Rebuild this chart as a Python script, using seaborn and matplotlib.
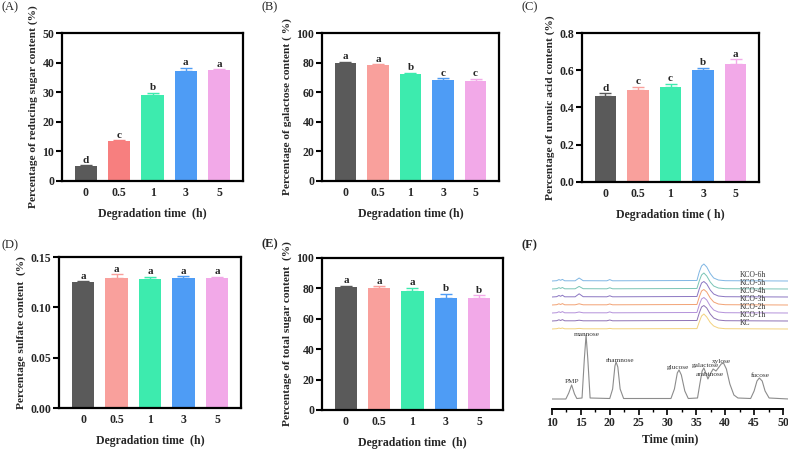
import matplotlib
matplotlib.use("Agg")
import matplotlib.pyplot as plt
import seaborn as sns
from matplotlib.ticker import MultipleLocator, FormatStrFormatter

# Degradation times (h)
times = ["0", "0.5", "1", "3", "5"]

# (A) reducing sugar
reducing = [5.0, 13.5, 29.2, 37.2, 37.5]
reducing_err = [0.3, 0.3, 0.6, 1.1, 0.3]
reducing_sig = ["d", "c", "b", "a", "a"]

# (B) galactose
galactose = [80.0, 78.2, 72.2, 68.2, 67.3]
galactose_err = [0.6, 0.6, 1.0, 1.3, 1.8]
galactose_sig = ["a", "a", "b", "c", "c"]

# (C) uronic acid
uronic = [0.460, 0.493, 0.508, 0.602, 0.636]
uronic_err = [0.018, 0.018, 0.020, 0.012, 0.022]
uronic_sig = ["d", "c", "c", "b", "a"]

# (D) sulfate
sulfate = [0.1250, 0.1290, 0.1285, 0.1295, 0.1295]
sulfate_err = [0.0010, 0.0040, 0.0020, 0.0015, 0.0010]
sulfate_sig = ["a", "a", "a", "a", "a"]

# (E) total sugar
total = [81.0, 80.5, 78.0, 74.0, 74.0]
total_err = [0.8, 1.0, 2.5, 2.5, 1.5]
total_sig = ["a", "a", "a", "b", "b"]

# (F) HPLC chromatograms: monosaccharide standard
std_t = [10.0, 12.4, 12.9, 13.4, 13.9, 14.3, 15.2, 15.6, 15.9, 16.2, 16.6,
         20.0, 20.5, 20.9, 21.1, 21.4, 21.8, 22.4, 30.6, 31.2, 31.7, 32.0,
         32.4, 33.0, 33.6, 35.2, 35.6, 36.0, 36.3, 36.7, 37.0, 37.4, 37.9,
         38.4, 38.8, 39.3, 39.7, 40.2, 40.8, 41.5, 42.2, 44.4, 45.0, 45.5,
         45.9, 46.4, 46.9, 47.6, 51.0]
std_y = [0, 0, 6, 14, 5, 0.5, 1, 40, 64, 40, 1,
         0.5, 10, 33, 37, 32, 10, 0.5, 0.5, 10, 26, 29,
         24, 8, 0.5, 1, 15, 28, 31, 25, 20, 25, 30,
         28, 31, 35, 36, 30, 15, 4, 1, 0.5, 8, 18,
         21, 18, 8, 1, 0]
peak_names = ["PMP", "mannose", "rhamnose", "glucose", "galactose", "arabinose", "xylose", "fucose"]
peak_t = [13.4, 16.0, 21.8, 31.8, 36.5, 37.4, 39.4, 46.0]
peak_y = [17.5, 65, 38.5, 31, 34, 25, 37.5, 23.5]

# (F) sample chromatograms
sample_t = [10.0, 10.8, 11.2, 11.5, 11.8, 12.2, 14.0, 14.7, 15.4, 19.5, 20.0,
            20.5, 35.1, 35.5, 35.9, 36.3, 36.8, 37.4, 38.0, 38.8, 40.0, 51.0]
kc_y = [0, 0.3, 0.9, 0.5, 1.0, 0.2, 0.2, 0.6, 0.2, 0.2, 0.6, 0.2, 0.4, 7, 13, 15, 12, 6.5, 3, 1, 0.3, 0]
kco1_y = [0, 0.3, 1.2, 0.5, 1.4, 0.2, 0.2, 0.8, 0.2, 0.2, 1.0, 0.2, 0.5, 8, 14, 15.5, 13, 7, 3, 1, 0.3, 0]
kco2_y = [0, 0.3, 1.2, 0.5, 1.4, 0.2, 0.2, 1.0, 0.2, 0.2, 1.1, 0.2, 0.5, 8, 14, 15.5, 13, 7, 3, 1, 0.3, 0]
kco3_y = [0, 0.3, 1.2, 0.5, 1.4, 0.2, 0.2, 1.2, 0.2, 0.2, 1.0, 0.2, 0.5, 8, 14, 15.5, 13, 7, 3, 1, 0.3, 0]
kco4_y = [0, 0.3, 1.5, 0.7, 1.8, 0.2, 0.2, 3.2, 0.3, 0.2, 1.2, 0.2, 0.5, 8, 14, 15.5, 13, 7, 3, 1, 0.3, 0]
kco5_y = [0, 0.3, 1.3, 0.6, 1.5, 0.2, 0.2, 2.6, 0.3, 0.2, 1.2, 0.2, 0.5, 8, 14, 16, 13, 7, 3, 1, 0.3, 0]
kco6_y = [0, 0.3, 1.4, 0.7, 1.6, 0.2, 0.2, 3.0, 0.3, 0.2, 1.4, 0.2, 0.5, 9, 15, 17, 14, 7.5, 3, 1, 0.3, 0]
sample_names = ["KC", "KCO-1h", "KCO-2h", "KCO-3h", "KCO-4h", "KCO-5h", "KCO-6h"]
sample_traces = [kc_y, kco1_y, kco2_y, kco3_y, kco4_y, kco5_y, kco6_y]
sample_colors = ["#F3D27E", "#8E72B5", "#B492DA", "#F2A274", "#8B76C2", "#79C4B5", "#7FB6E3"]
sample_offsets = [70, 78, 86, 94, 102, 110, 118]

bar_colors = ["#5A5A5A", "#F9A09C", "#3DEBAE", "#4E9CF5", "#F2A9E8"]
bar_colors_a = ["#5A5A5A", "#F77F7F", "#3DEBAE", "#4E9CF5", "#F2A9E8"]

sns.set_theme(style="ticks")
plt.rcParams["font.family"] = ["Liberation Serif", "DejaVu Serif"]

fig = plt.figure(figsize=(7.88, 4.49), dpi=100)


def bar_panel(rect, vals, errs, sig, colors, ymax, step, fmt, ylabel, xlabel):
    ax = fig.add_axes(rect)
    sns.barplot(x=times, y=vals, hue=times, palette=colors, saturation=1,
                width=0.67, legend=False, errorbar=None, linewidth=0, ax=ax)
    for i in range(len(vals)):
        ax.errorbar(i, vals[i], yerr=[[0], [errs[i]]], fmt="none", ecolor=colors[i],
                    elinewidth=1, capsize=4, capthick=1)
        ax.annotate(sig[i], (i, vals[i] + errs[i]), xytext=(0, 0.3),
                    textcoords="offset points", ha="center", va="bottom",
                    fontsize=8, fontweight="bold")
    ax.set_xlim(-0.72, 4.72)
    ax.set_ylim(0, ymax)
    ax.yaxis.set_major_locator(MultipleLocator(step))
    ax.yaxis.set_major_formatter(FormatStrFormatter(fmt))
    for s in ax.spines.values():
        s.set_visible(True)
        s.set_linewidth(1.6)
        s.set_color("black")
    ax.tick_params(axis="y", width=1.5, length=4, labelsize=8.5, pad=1.5, color="black")
    ax.tick_params(axis="x", length=0, labelsize=8.5, pad=4)
    for lab in ax.get_xticklabels() + ax.get_yticklabels():
        lab.set_fontweight("bold")
    ax.set_ylabel(ylabel, fontsize=8.2, fontweight="bold", labelpad=3)
    ax.set_xlabel(xlabel, fontsize=8.5, fontweight="bold", labelpad=7)
    return ax


bar_panel([0.0787, 0.5969, 0.2297, 0.3296], reducing, reducing_err, reducing_sig, bar_colors_a,
          50, 10, "%d", "Percentage of reducing sugar content (%)", "Degradation time  (h)")
bar_panel([0.4086, 0.5969, 0.2246, 0.3296], galactose, galactose_err, galactose_sig, bar_colors,
          100, 20, "%d", "Percentage of galactose content ( %)", "Degradation time (h)")
bar_panel([0.7386, 0.5947, 0.2246, 0.3318], uronic, uronic_err, uronic_sig, bar_colors,
          0.8, 0.2, "%.1f", "Percentage of uronic acid content (%)", "Degradation time ( h)")
bar_panel([0.0749, 0.0913, 0.2310, 0.3363], sulfate, sulfate_err, sulfate_sig, bar_colors,
          0.15, 0.05, "%.2f", "Percentage sulfate content  (%)", "Degradation time  (h)")
bar_panel([0.4086, 0.0869, 0.2297, 0.3385], total, total_err, total_sig, bar_colors,
          100, 20, "%d", "Percentage of total sugar content  (%)", "Degradation time  (h)")

# (F) chromatograms
axf = fig.add_axes([552 / 788, 40 / 449, 236 / 788, 151 / 449])
sns.lineplot(x=std_t, y=std_y, color="#8C8C8C", linewidth=0.8, sort=False,
             estimator=None, ax=axf)
for name, tr, col, off in zip(sample_names, sample_traces, sample_colors, sample_offsets):
    axf.plot(sample_t, [v + off for v in tr], color=col, linewidth=0.7)
    axf.text(42.6, off + 6, name, fontsize=5.5, ha="left", va="center", color="#333333")
for name, t, y in zip(peak_names, peak_t, peak_y):
    axf.text(t, y, name, fontsize=5.2, ha="center", va="center", color="#333333")
axf.set_xlim(10, 50.87)
axf.set_ylim(-10, 141)
for side in ["left", "right", "top"]:
    axf.spines[side].set_visible(False)
axf.spines["bottom"].set_linewidth(1.4)
axf.spines["bottom"].set_color("black")
axf.spines["bottom"].set_bounds(10, 50)
axf.set_yticks([])
axf.xaxis.set_major_locator(MultipleLocator(5))
axf.xaxis.set_minor_locator(MultipleLocator(2.5))
axf.tick_params(axis="x", which="major", width=1.2, length=4, labelsize=8.5, pad=2, color="black")
axf.tick_params(axis="x", which="minor", width=1, length=2.5, color="black", bottom=True)
for lab in axf.get_xticklabels():
    lab.set_fontweight("bold")
axf.set_xlabel("Time (min)", fontsize=8.5, fontweight="bold", labelpad=3)
axf.set_ylabel("")

# panel letters
fig.text(2 / 788, 1 - 7 / 449, "(A)", fontsize=9, va="center", ha="left")
fig.text(262 / 788, 1 - 7 / 449, "(B)", fontsize=9, va="center", ha="left")
fig.text(522 / 788, 1 - 7 / 449, "(C)", fontsize=9, va="center", ha="left")
fig.text(1 / 788, 1 - 245 / 449, "(D)", fontsize=9, va="center", ha="left")
fig.text(262 / 788, 1 - 244 / 449, "(E)", fontsize=9, va="center", ha="left", fontweight="bold")
fig.text(522 / 788, 1 - 245 / 449, "(F)", fontsize=9, va="center", ha="left", fontweight="bold")

fig.savefig("out.png", dpi=100)
